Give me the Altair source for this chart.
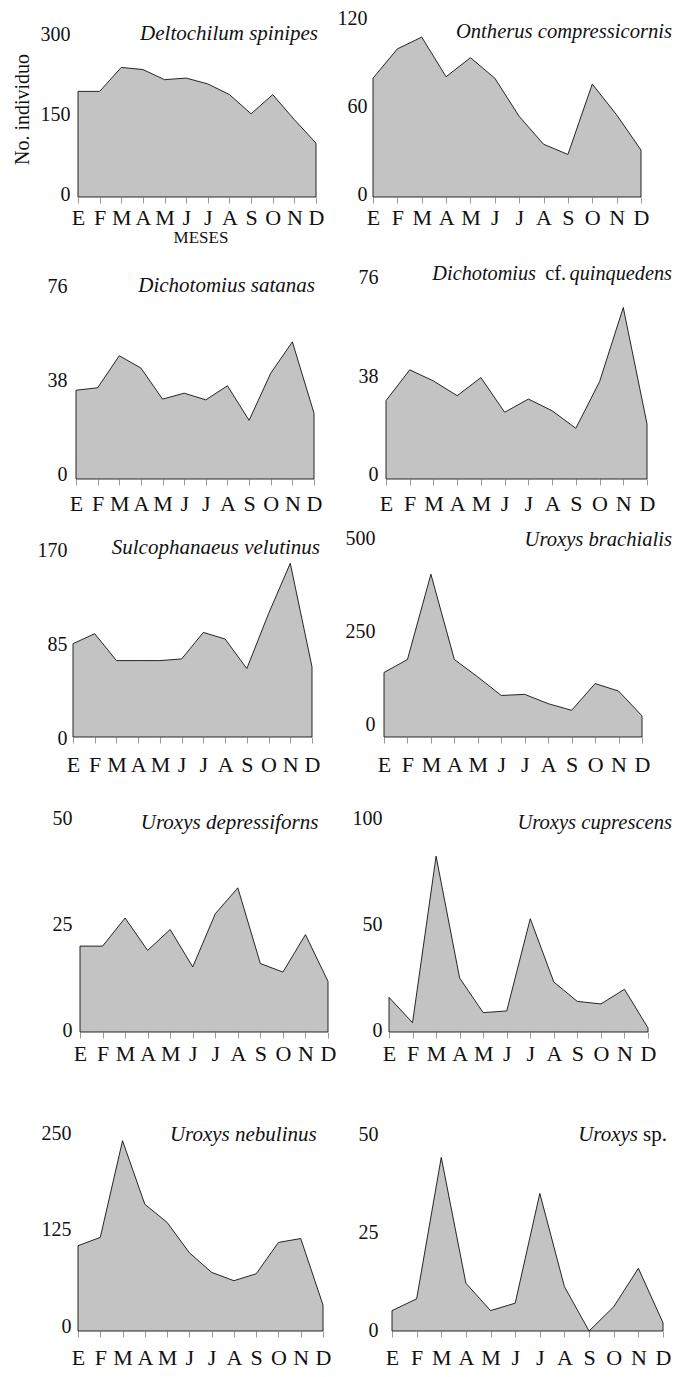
import altair as alt
import pandas as pd

# ---------------- data ----------------
months = ['E', 'F', 'M', 'A', 'M', 'J', 'J', 'A', 'S', 'O', 'N', 'D']

species = [
    "Deltochilum spinipes",
    "Ontherus compressicornis",
    "Dichotomius satanas",
    "Dichotomius cf. quinquedens",
    "Sulcophanaeus velutinus",
    "Uroxys brachialis",
    "Uroxys depressiforns",
    "Uroxys cuprescens",
    "Uroxys nebulinus",
    "Uroxys sp.",
]

deltochilum = [198, 198, 243, 239, 220, 223, 212, 192, 156, 192, 145, 101]
ontherus = [81, 101, 109, 82, 95, 81, 55, 36, 29, 77, 56, 32]
satanas = [36, 37, 50, 45, 32.4, 34.8, 32.1, 37.8, 23.8, 42.9, 55.6, 26.7]
quinquedens = [30.3, 42.2, 37.9, 32.2, 39.2, 25.8, 30.9, 26.4, 19.6, 37.6, 66.3, 21.3]
sulcophanaeus = [84.4, 93.4, 69.1, 69.1, 69.1, 70.6, 94.6, 88.6, 61.9, 111.5, 157.1, 63.4]
brachialis = [174, 209, 439, 209, 162, 112, 115, 90, 72, 144, 124, 57]
depressiforns = [20.2, 20.2, 26.8, 19.2, 24.1, 15.3, 27.8, 33.9, 16.1, 14.1, 22.9, 11.9]
cuprescens = [16.3, 4.4, 82.7, 25.4, 9.1, 9.9, 53.3, 23.5, 14.4, 13.2, 20.1, 1.9]
nebulinus = [110.7, 121.5, 247, 164.5, 141, 101.6, 76.1, 65.3, 74.3, 115, 120, 33.7]
uroxys_sp = [5.2, 8.2, 44.3, 12.2, 5.2, 7.1, 35.1, 11.3, 0, 6.2, 16.0, 2.1]

series = [deltochilum, ontherus, satanas, quinquedens, sulcophanaeus,
          brachialis, depressiforns, cuprescens, nebulinus, uroxys_sp]

tick_values = [[0, 150, 300], [0, 60, 120], [0, 38, 76], [0, 38, 76], [0, 85, 170],
               [0, 250, 500], [0, 25, 50], [0, 50, 100], [0, 125, 250], [0, 25, 50]]

y_title = "No. individuo"
x_title = "MESES"

# ---------------- layout (page pixels) ----------------
col_left = [73, 373]
col_right = [328, 663]
row_top = [20, 266, 548, 806, 1101]
row_bot = [196, 478, 736, 1031, 1330]
row_xlabel_pad = [4.5, 8.5, 11.5, 5.5, 10.5]

layout = [
    dict(e=78, d=316, step=80.0, loff=-3, lpad=3, styles=["italic"], anchors=[(318, 'right')], ty=39.3, fs=21),
    dict(e=373, d=641, step=88.0, loff=-2.5, lpad=6, styles=["italic"], anchors=[(672, 'right')], ty=37.3, fs=20.6),
    dict(e=76, d=314, step=93.7, loff=-4.8, lpad=6, styles=["italic"], anchors=[(315, 'right')], ty=290.7, fs=21),
    dict(e=386, d=647, step=98.3, loff=-4.7, lpad=-5, styles=["italic", "normal", "italic"],
         anchors=[(536, 'right'), (566, 'right'), (672, 'right')], ty=279.3, fs=20.3),
    dict(e=73, d=312, step=94.3, loff=1.3, lpad=6, styles=["italic"], anchors=[(320, 'right')], ty=552.7, fs=21),
    dict(e=384, d=642, step=92.7, loff=-12.7, lpad=-2, styles=["italic"], anchors=[(672, 'right')], ty=545, fs=20.6),
    dict(e=80, d=328, step=106.3, loff=-1.2, lpad=1, styles=["italic"], anchors=[(318.3, 'right')], ty=828.3, fs=21),
    dict(e=389, d=648, step=106.3, loff=-1.2, lpad=-9, styles=["italic"], anchors=[(672, 'right')], ty=828.3, fs=20.6),
    dict(e=78, d=323, step=96.3, loff=-4.9, lpad=2, styles=["italic"], anchors=[(316.7, 'right')], ty=1140, fs=21),
    dict(e=392, d=663, step=98.0, loff=-1, lpad=-5, styles=["italic", "normal"],
         anchors=[(638, 'right'), (643, 'left')], ty=1140, fs=21),
]

FONT = "Liberation Serif"
TXT = "#111111"
FILL = "#c3c3c3"

label_expr = "[" + ",".join("'%s'" % m for m in months) + "][datum.value]"


def panel(k):
    L = layout[k]
    col, row = k % 2, k // 2
    cl, cr = col_left[col], col_right[col]
    top, bot = row_top[row], row_bot[row]
    W, H = cr - cl, bot - top
    pxu = (L['d'] - L['e']) / 11.0
    xdom = [-(L['e'] - cl) / pxu, 11 + (cr - L['d']) / pxu]
    ticks = tick_values[k]
    pyu = L['step'] / ticks[1]
    ymax = max(H / pyu, ticks[-1])

    df = pd.DataFrame({'mes': list(range(12)), 'n': series[k]})

    xaxis_kw = dict(values=list(range(12)), labelExpr=label_expr, domain=False,
                    grid=False, ticks=True, tickSize=6, tickColor='#9a9a9a', tickWidth=1,
                    labelFont=FONT, labelFontSize=22, labelColor=TXT,
                    labelPadding=row_xlabel_pad[row], labelFlush=False,
                    labelOverlap=False, labelBound=False)
    yaxis_kw = dict(values=ticks, domain=False, grid=False, ticks=False,
                    labelFont=FONT, labelFontSize=20, labelColor=TXT,
                    labelPadding=L['lpad'], labelOffset=L['loff'], labelFlush=False,
                    labelOverlap=False, format='d')
    if k == 0:
        xaxis = alt.Axis(title=x_title, titleFont=FONT, titleFontSize=17,
                         titleFontWeight='normal', titleColor=TXT, titlePadding=1,
                         **xaxis_kw)
        yaxis = alt.Axis(title=y_title, titleFont=FONT, titleFontSize=20,
                         titleFontWeight='normal', titleColor=TXT, titlePadding=8,
                         **yaxis_kw)
    else:
        xaxis = alt.Axis(title=None, **xaxis_kw)
        yaxis = alt.Axis(title=None, **yaxis_kw)

    area = alt.Chart(df).mark_area(
        fill=FILL, fillOpacity=1, stroke='#111111', strokeWidth=0.9, interpolate='linear'
    ).encode(
        x=alt.X('mes:Q', scale=alt.Scale(domain=xdom, nice=False, zero=False), axis=xaxis),
        y=alt.Y('n:Q', scale=alt.Scale(domain=[0, ymax], nice=False), axis=yaxis),
    )

    if len(L['styles']) == 1:
        parts = [species[k]]
    else:
        parts = species[k].split(' ')
    layers = [area]
    for text, style, (ax, al) in zip(parts, L['styles'], L['anchors']):
        t = alt.Chart(pd.DataFrame({'t': [text]})).mark_text(
            align=al, baseline='alphabetic', font=FONT, fontSize=L['fs'],
            fontStyle=style, color=TXT
        ).encode(
            x=alt.value(ax - cl), y=alt.value(L['ty'] - top), text='t:N'
        )
        layers.append(t)
    return alt.layer(*layers).properties(width=W, height=H)


charts = [panel(k) for k in range(10)]

chart = alt.concat(*charts, columns=2, spacing={"row": 70, "column": 45}, bounds='flush').properties(
    padding={"left": 4, "top": 0, "right": 0, "bottom": 0},
    background='white'
).configure_view(strokeWidth=0, stroke=None)

chart.save("out.html", embed_options={"renderer": "svg", "actions": False})
